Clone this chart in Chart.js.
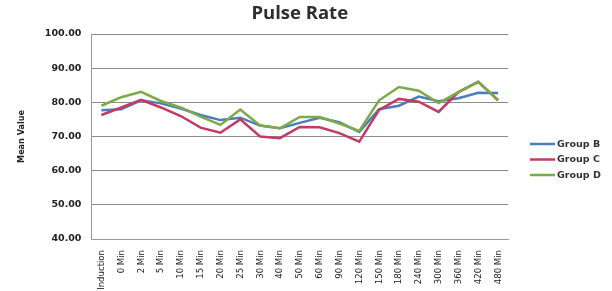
<!DOCTYPE html>
<html>
<head>
<meta charset="utf-8">
<script src="https://cdn.jsdelivr.net/npm/chart.js@4"></script>
<style>
  html, body { margin: 0; padding: 0; background: #fff; }
  #wrap { width: 612px; height: 291px; }
</style>
</head>
<body>
<div id="wrap"><canvas id="pulseChart" width="612" height="291"></canvas></div>
<script>
const categories = ['Pre Induction', '0 Min', '2 Min', '5 Min', '10 Min', '15 Min', '20 Min', '25 Min', '30 Min', '40 Min', '50 Min', '60 Min', '90 Min', '120 Min', '150 Min', '180 Min', '240 Min', '300 Min', '360 Min', '420 Min', '480 Min'];
const groupB = [77.7, 78.0, 80.6, 79.7, 78.2, 76.3, 74.8, 75.5, 73.2, 72.4, 74.0, 75.5, 74.2, 71.3, 78.0, 79.0, 81.7, 80.3, 81.2, 82.8, 82.7];
const groupC = [76.3, 78.5, 80.7, 78.5, 76.0, 72.6, 71.1, 75.0, 70.0, 69.5, 72.8, 72.7, 71.0, 68.5, 77.8, 81.0, 80.2, 77.2, 83.0, 86.0, 80.6];
const groupD = [79.0, 81.5, 83.1, 80.4, 78.5, 75.8, 73.4, 77.9, 73.2, 72.4, 75.7, 75.7, 73.8, 71.6, 80.6, 84.5, 83.4, 79.8, 83.0, 86.0, 80.6];
const yTicks = [40, 50, 60, 70, 80, 90, 100];

// legend drawn by hand so it can sit where the original has it
const sideLegend = {
  id: 'sideLegend',
  afterDraw(chart) {
    const c = chart.ctx;
    chart.data.datasets.forEach((ds, i) => {
      const y = 144 + i * 15.5;
      c.save();
      c.strokeStyle = ds.borderColor;
      c.lineWidth = 2.5;
      c.beginPath();
      c.moveTo(530, y);
      c.lineTo(555, y);
      c.stroke();
      c.fillStyle = '#333';
      c.font = 'bold 9.5px "DejaVu Sans", sans-serif';
      c.textBaseline = 'middle';
      c.fillText(ds.label, 557, y + 0.5);
      c.restore();
    });
  }
};

const ctx = document.getElementById('pulseChart').getContext('2d');
new Chart(ctx, {
  type: 'line',
  data: {
    labels: categories,
    datasets: [
      { label: 'Group B', data: groupB, borderColor: '#4a7ebb', backgroundColor: '#4a7ebb', order: 3 },
      { label: 'Group C', data: groupC, borderColor: '#c23b62', backgroundColor: '#c23b62', order: 2 },
      { label: 'Group D', data: groupD, borderColor: '#7caa48', backgroundColor: '#7caa48', order: 1 }
    ]
  },
  plugins: [sideLegend],
  options: {
    responsive: false,
    animation: false,
    layout: { padding: { left: 12, right: 104, top: 0, bottom: 0 } },
    elements: {
      line: { borderWidth: 2.5, tension: 0 },
      point: { radius: 0 }
    },
    plugins: {
      title: {
        display: true,
        fullSize: false,
        text: 'Pulse Rate',
        color: '#2e2e2e',
        font: { family: '"Open Sans", sans-serif', size: 18.5, weight: 'bold' },
        padding: { top: 3, bottom: 8.8 }
      },
      legend: { display: false },
      tooltip: { enabled: false }
    },
    scales: {
      x: {
        offset: true,
        grid: { display: false },
        border: { color: '#999' },
        afterFit: (scale) => { scale.height = 52; },
        ticks: {
          autoSkip: false,
          maxRotation: 90,
          minRotation: 90,
          padding: 3,
          color: '#222',
          font: { family: '"Liberation Sans Narrow", "DejaVu Sans Condensed", sans-serif', size: 9.5 }
        }
      },
      y: {
        min: 40,
        max: 100,
        afterBuildTicks: (scale) => { scale.ticks = yTicks.map(v => ({ value: v })); },
        grid: { color: '#8c8c8c', lineWidth: 1, drawTicks: false },
        border: { color: '#999' },
        title: {
          display: true,
          text: 'Mean Value',
          color: '#222',
          font: { family: '"Liberation Sans Narrow", "DejaVu Sans Condensed", sans-serif', size: 9, weight: 'bold' },
          padding: { top: 4, bottom: 8 }
        },
        ticks: {
          padding: 10,
          color: '#222',
          font: { family: '"DejaVu Sans", sans-serif', size: 9.5, weight: 'bold' },
          callback: (v) => Number(v).toFixed(2)
        }
      }
    }
  }
});
</script>
</body>
</html>
